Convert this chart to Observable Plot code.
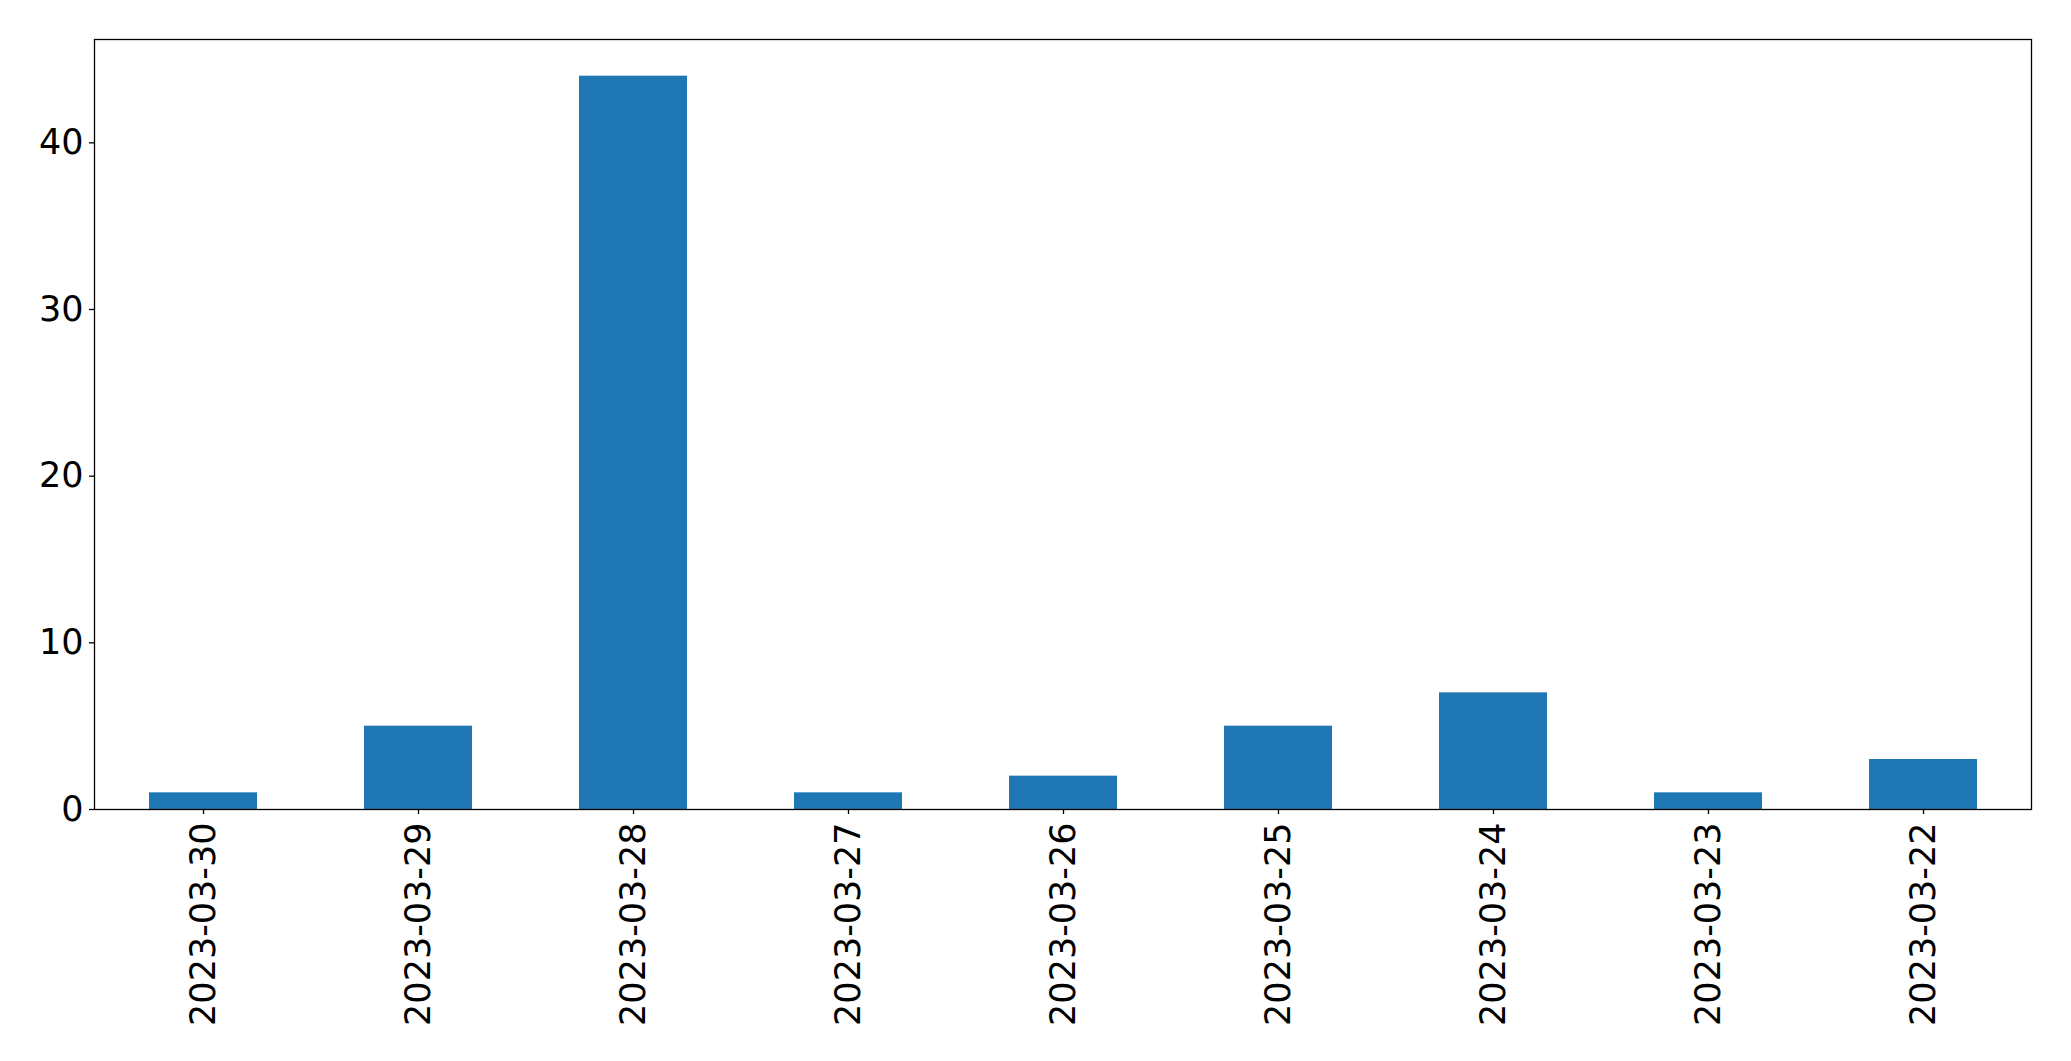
<!DOCTYPE html>
<html>
<head>
<meta charset="utf-8">
<script src="https://cdn.jsdelivr.net/npm/d3@7"></script>
<script src="https://cdn.jsdelivr.net/npm/@observablehq/plot@0.6"></script>
<style>
  html, body { margin: 0; padding: 0; background: #fff; }
  svg { display: block; }
</style>
</head>
<body>
<div id="chart"></div>
<script>
const dates = ["2023-03-30", "2023-03-29", "2023-03-28", "2023-03-27", "2023-03-26", "2023-03-25", "2023-03-24", "2023-03-23", "2023-03-22"];
const counts = [1, 5, 44, 1, 2, 5, 7, 1, 3];
const yTicks = [0, 10, 20, 30, 40];

const data = dates.map((d, i) => ({date: d, count: counts[i]}));

const chart = Plot.plot({
  width: 2071,
  height: 1061,
  marginLeft: 94,
  marginRight: 40,
  marginTop: 39,
  marginBottom: 252,
  style: {fontFamily: "DejaVu Sans", fontSize: "35px", color: "#000", background: "#fff"},
  x: {domain: dates, paddingInner: 0.5, paddingOuter: 0.25, label: null},
  y: {domain: [0, 46.2], ticks: yTicks, label: null},
  marks: [
    Plot.barY(data, {x: "date", y: "count", fill: "#1f77b4"}),
    Plot.frame({stroke: "#000", strokeWidth: 1.3}),
    Plot.axisY({ticks: yTicks, tickSize: 5, tickPadding: 6, tickFormat: d => String(d), label: null, fontSize: 35, stroke: "#000", strokeWidth: 1.3}),
    Plot.axisX({tickSize: 5, tickRotate: -90, tickPadding: 8, label: null, fontSize: 35, stroke: "#000", strokeWidth: 1.3})
  ]
});
document.getElementById("chart").appendChild(chart);
</script>
</body>
</html>
